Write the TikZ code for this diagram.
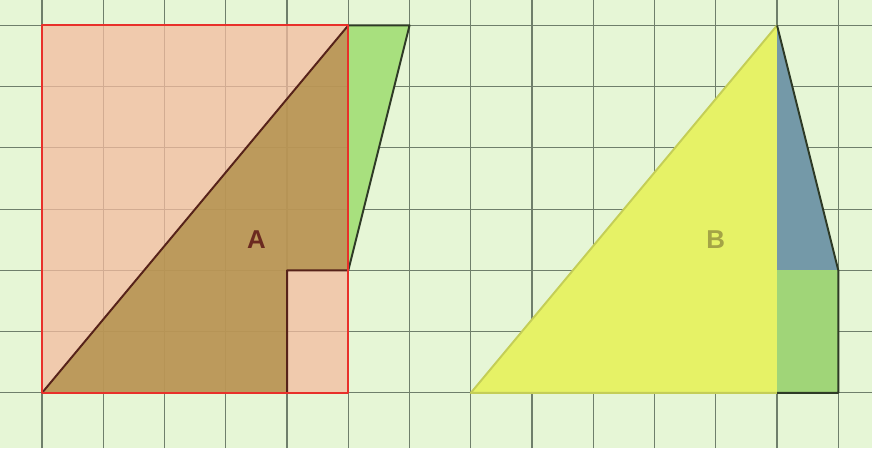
\documentclass[tikz,border=0pt]{standalone}
\usepackage{fontspec}
\setsansfont{Liberation Sans}
\usetikzlibrary{positioning}
\definecolor{pgPaper}{HTML}{E6F6D6}
\definecolor{pgGrid} {HTML}{6F7F6B}
\definecolor{pgPink} {HTML}{F4BCA0}
\definecolor{pgBrown}{HTML}{B08E48}
\definecolor{pgRed}  {HTML}{E8302A}
\definecolor{pgLime} {HTML}{A8E07E}
\definecolor{pgYell} {HTML}{E6F266}
\definecolor{pgBlue} {HTML}{7499A8}
\definecolor{pgEdge} {HTML}{2E3A26}
\definecolor{pgTxtA} {HTML}{6B2A20}
\definecolor{pgTxtB} {HTML}{A4A446}

\begin{document}
\begin{tikzpicture}[font=\sffamily\bfseries\fontsize{12}{14}\selectfont,
          gridln/.style={pgGrid,line width=0.55pt},
          piece/.style={line width=0.9pt,line join=round},
          lbl/.style={inner sep=0}]
        % paper and grid
        \fill[pgPaper] (-0.686,-0.90) rectangle (13.55,6.414);
        \useasboundingbox (-0.686,-0.90) rectangle (13.55,6.414);
        \foreach \x in {0,...,13} \draw[gridln] (\x,-0.90) -- (\x,6.414);
        \foreach \y in {0,...,6} \draw[gridln] (-0.686,\y) -- (13.55,\y);

        % figure A
        \coordinate (a0) at (0,0);
        \coordinate (a1) at (5,6);
        \coordinate (a2) at (5,2);
        \coordinate (a3) at (4,2);
        \coordinate (a4) at (4,0);
        \coordinate (a5) at (6,6);
        \fill[pgPink,opacity=0.75] (a0) rectangle (a1);
        \fill[pgBrown,opacity=0.8] (a0) -- (a1) -- (a2) -- (a3) -- (a4) -- cycle;
        \fill[pgLime] (a1) -- (a5) -- (a2) -- cycle;
        \draw[piece,pgTxtA!80!black] (a0) -- (a1) (a2) -- (a3) -- (a4);
        \draw[piece,pgEdge] (a1) -- (a5) -- (a2);
        \draw[piece,pgRed] (a0) rectangle (a1);
        \node[lbl,text=pgTxtA] (labA) at (3.5,2.5) {A};

        % figure B
        \coordinate (b0) at (7,0);
        \coordinate (b1) at (12,6);
        \coordinate (b2) at (12,0);
        \coordinate (b3) at (12,2);
        \coordinate (b4) at (13,2);
        \coordinate (b5) at (13,0);
        \fill[pgYell] (b0) -- (b1) -- (b2) -- cycle;
        \fill[pgBlue] (b1) -- (b4) -- (b3) -- cycle;
        \fill[pgLime!95!black] (b3) rectangle (b5);
        \draw[piece,pgYell!85!black] (b2) -- (b0) -- (b1);
        \draw[piece,pgEdge] (b1) -- (b4) -- (b5) -- (b2);
        \node[lbl,text=pgTxtB] (labB) at (11,2.5) {B};
      \end{tikzpicture}
\end{document}
